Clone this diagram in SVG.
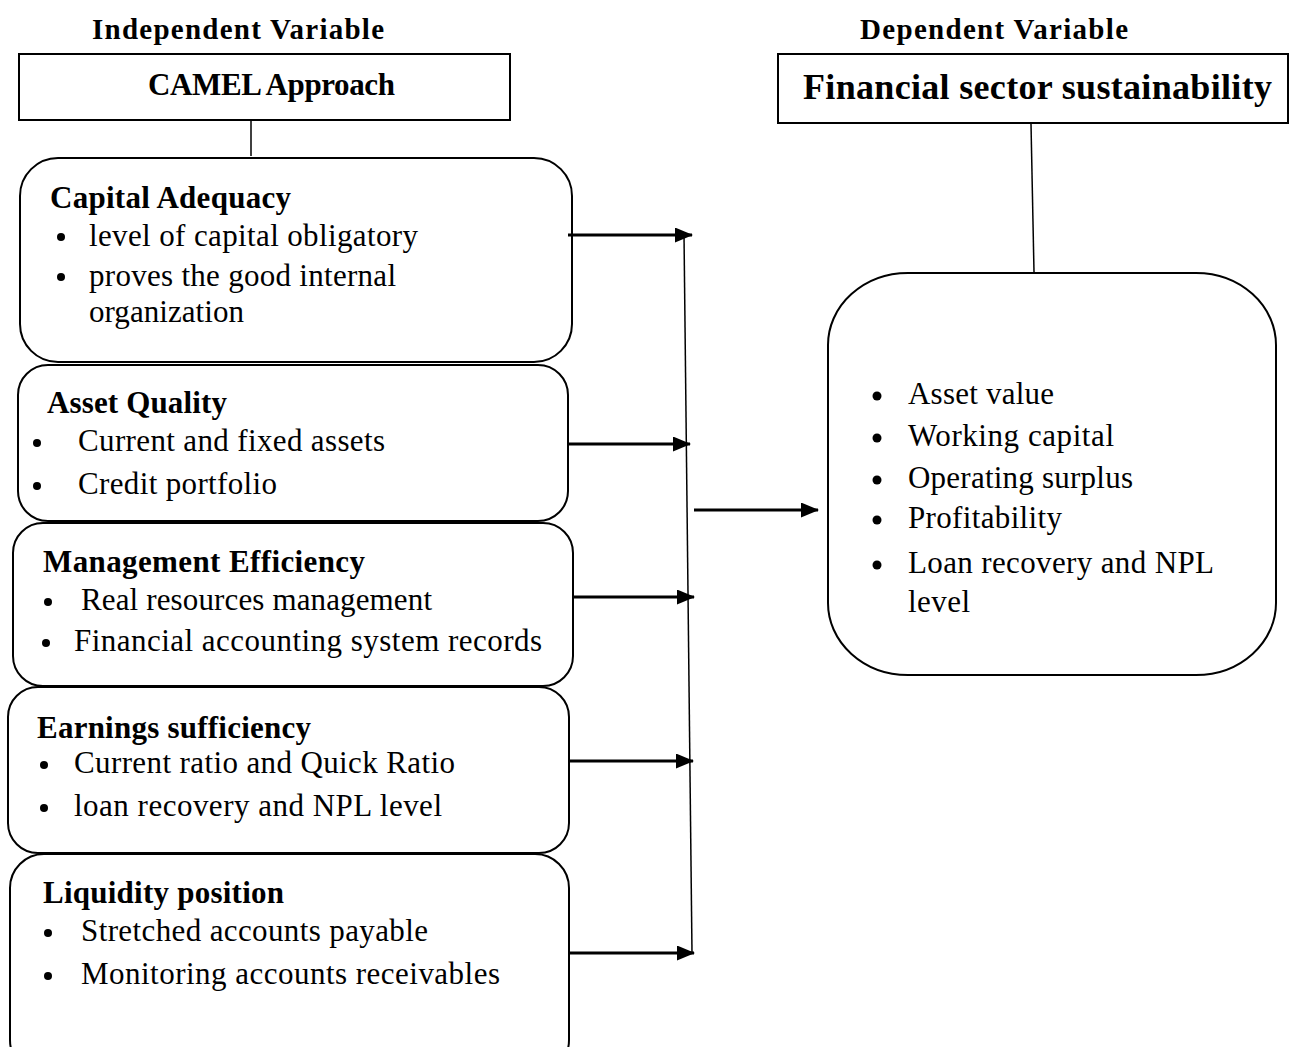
<svg xmlns="http://www.w3.org/2000/svg" width="1290" height="1047" viewBox="0 0 1290 1047">
<style>
.bg{fill:#fff}
.box{fill:#fff;stroke:#000;stroke-width:2}
.hdr{font-family:"Liberation Serif","Times New Roman",serif;font-weight:bold;font-size:29px;fill:#000}
.ttl{font-family:"Liberation Serif","Times New Roman",serif;font-weight:bold;font-size:31px;fill:#000}
.big{font-family:"Liberation Serif","Times New Roman",serif;font-weight:bold;font-size:36px;fill:#000}
.txt{font-family:"Liberation Serif","Times New Roman",serif;font-size:31px;fill:#000}
.thin{stroke:#000;stroke-width:1.5;fill:none}
.arr{stroke:#000;stroke-width:3;fill:none;marker-end:url(#ah)}
</style>
<defs>
<marker id="ah" markerUnits="userSpaceOnUse" markerWidth="18" markerHeight="15" refX="17" refY="7.5" orient="auto">
<path d="M0,0 L18,7.5 L0,15 Z" fill="#000"/>
</marker>
</defs>
<rect class="bg" x="0" y="0" width="1290" height="1047"/>

<g id="labels">
<text class="hdr" x="92" y="39" textLength="292">Independent  Variable</text>
<text class="hdr" x="860" y="39" textLength="268">Dependent  Variable</text>
</g>

<g id="camel">
<rect class="box" x="19" y="54" width="491" height="66"/>
<text class="ttl" x="148" y="95" textLength="247">CAMEL  Approach</text>
</g>

<g id="fss">
<rect class="box" x="778" y="54" width="510" height="69"/>
<text class="big" x="803" y="99" textLength="469">Financial sector sustainability</text>
</g>

<g id="capital">
<rect class="box" x="20" y="158" width="552" height="204" rx="38" ry="38"/>
<text class="ttl" x="50" y="208" textLength="241">Capital  Adequacy</text>
<circle cx="61" cy="237" r="4"/>
<text class="txt" x="89" y="246" textLength="329">level of capital obligatory</text>
<circle cx="61" cy="277" r="4"/>
<text class="txt" x="89" y="286" textLength="307">proves the  good  internal</text>
<text class="txt" x="89" y="322" textLength="155">organization</text>
</g>

<g id="asset">
<rect class="box" x="18" y="365" width="550" height="156" rx="30" ry="30"/>
<text class="ttl" x="47" y="413" textLength="180">Asset Quality</text>
<circle cx="37" cy="443" r="4"/>
<text class="txt" x="78" y="451" textLength="307">Current  and  fixed  assets</text>
<circle cx="37" cy="486" r="4"/>
<text class="txt" x="78" y="494" textLength="199">Credit portfolio</text>
</g>

<g id="management">
<rect class="box" x="13" y="523" width="560" height="163" rx="30" ry="30"/>
<text class="ttl" x="43" y="572" textLength="322">Management  Efficiency</text>
<circle cx="48" cy="602" r="4"/>
<text class="txt" x="81" y="610" textLength="351">Real resources management</text>
<circle cx="46" cy="643" r="4"/>
<text class="txt" x="74" y="651" textLength="468">Financial accounting  system  records</text>
</g>

<g id="earnings">
<rect class="box" x="8" y="687" width="561" height="166" rx="30" ry="30"/>
<text class="ttl" x="37" y="738" textLength="274">Earnings  sufficiency</text>
<circle cx="44" cy="765" r="4"/>
<text class="txt" x="74" y="773" textLength="381">Current  ratio and  Quick Ratio</text>
<circle cx="44" cy="808" r="4"/>
<text class="txt" x="74" y="816" textLength="368">loan recovery and  NPL level</text>
</g>

<g id="liquidity">
<rect class="box" x="10" y="854" width="559" height="220" rx="34" ry="34"/>
<text class="ttl" x="43" y="903" textLength="241">Liquidity  position</text>
<circle cx="48" cy="933" r="4"/>
<text class="txt" x="81" y="941" textLength="347">Stretched  accounts  payable</text>
<circle cx="48" cy="976" r="4"/>
<text class="txt" x="81" y="984" textLength="419">Monitoring  accounts  receivables</text>
</g>

<g id="outcomes">
<rect class="box" x="828" y="273" width="448" height="402" rx="80" ry="72"/>
<circle cx="877" cy="396" r="4.5"/>
<text class="txt" x="908" y="404" textLength="146">Asset value</text>
<circle cx="877" cy="438" r="4.5"/>
<text class="txt" x="908" y="446" textLength="206">Working  capital</text>
<circle cx="877" cy="480" r="4.5"/>
<text class="txt" x="908" y="488" textLength="225">Operating  surplus</text>
<circle cx="877" cy="520" r="4.5"/>
<text class="txt" x="908" y="528" textLength="154">Profitability</text>
<circle cx="877" cy="565" r="4.5"/>
<text class="txt" x="908" y="573" textLength="306">Loan  recovery and  NPL</text>
<text class="txt" x="908" y="612" textLength="62">level</text>
</g>

<g id="connectors">
<line class="thin" x1="251" y1="121" x2="251" y2="156"/>
<line class="thin" x1="1031" y1="124" x2="1034" y2="272"/>
<line class="thin" x1="684" y1="234" x2="692" y2="953"/>
<line class="arr" x1="568" y1="235" x2="692" y2="235"/>
<line class="arr" x1="567" y1="444" x2="690" y2="444"/>
<line class="arr" x1="573" y1="597" x2="694" y2="597"/>
<line class="arr" x1="570" y1="761" x2="693" y2="761"/>
<line class="arr" x1="570" y1="953" x2="694" y2="953"/>
<line class="arr" x1="694" y1="510" x2="818" y2="510"/>
</g>
</svg>
